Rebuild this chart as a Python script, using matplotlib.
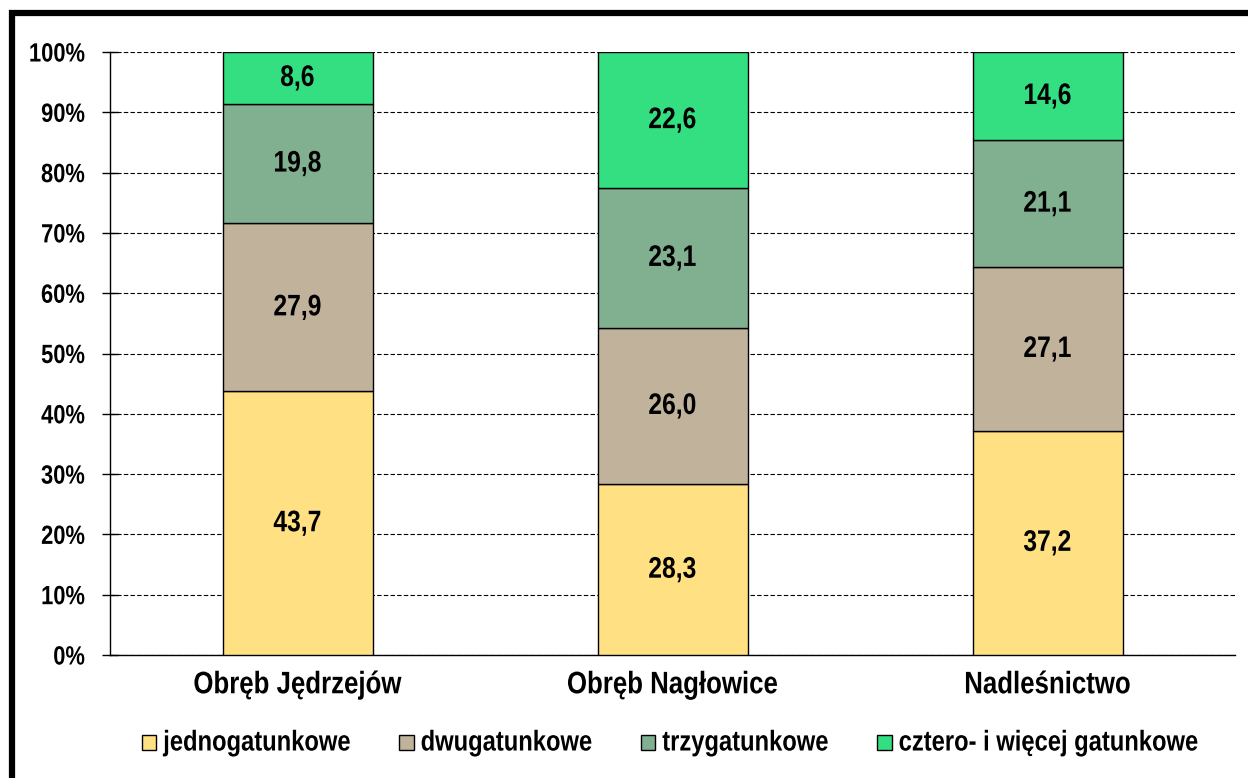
import matplotlib
matplotlib.use("Agg")
import matplotlib.pyplot as plt
from matplotlib.patches import Rectangle
from matplotlib.patheffects import AbstractPathEffect
from matplotlib.transforms import Affine2D
import numpy as np

categories = ["Obręb Jędrzejów", "Obręb Nagłowice", "Nadleśnictwo"]
series_names = ["jednogatunkowe", "dwugatunkowe", "trzygatunkowe", "cztero- i więcej gatunkowe"]
jedno = [43.7, 28.3, 37.2]
dwu = [27.9, 26.0, 27.1]
trzy = [19.8, 23.1, 21.1]
cztero = [8.6, 22.6, 14.6]
colors = ["#FFE083", "#C0B29B", "#80B08F", "#34DF82"]
tick_labels = [f"{v}%" for v in range(0, 101, 10)]

NARROW = 0.83


class Condense(AbstractPathEffect):
    """Horizontally compress text glyphs (narrow font look)."""
    def __init__(self, factor=NARROW, anchor='center'):
        super().__init__()
        self.factor = factor
        self.anchor = anchor

    def draw_path(self, renderer, gc, tpath, affine, rgbFace=None):
        ext = tpath.get_extents()
        if self.anchor == 'center':
            cx = (ext.x0 + ext.x1) / 2
        elif self.anchor == 'right':
            cx = ext.x1
        else:
            cx = ext.x0
        t = Affine2D().translate(-cx, 0).scale(self.factor, 1).translate(cx, 0) + affine
        renderer.draw_path(gc, tpath, t, rgbFace)


class Heighten(AbstractPathEffect):
    """Vertically stretch glyphs about the baseline (narrow font look, true width)."""
    def __init__(self, factor=1 / NARROW):
        super().__init__()
        self.factor = factor

    def draw_path(self, renderer, gc, tpath, affine, rgbFace=None):
        t = Affine2D().scale(1, self.factor) + affine
        renderer.draw_path(gc, tpath, t, rgbFace)


plt.rcParams['font.family'] = ['Liberation Sans', 'DejaVu Sans']
plt.rcParams['font.weight'] = 'bold'

fig = plt.figure(figsize=(12.48, 7.78), dpi=100)
ax = fig.add_axes([110/1248, 1-655/778, 1125/1248, 603/778])

# border
fig.patches.append(Rectangle((12/1248, -0.05), 1.1, (778-13)/778 + 0.05,
                             transform=fig.transFigure, fill=False,
                             edgecolor='black', linewidth=4.5, zorder=10))

x = np.arange(len(categories))
data = [jedno, dwu, trzy, cztero]
bottom = np.zeros(len(categories))
for vals, c, name in zip(data, colors, series_names):
    vals = np.array(vals)
    ax.bar(x, vals, 0.4, bottom=bottom, color=c, edgecolor='black',
           linewidth=1, label=name, zorder=3)
    for xi, b, v in zip(x, bottom, vals):
        t = ax.text(xi, b + v/2, f"{v:.1f}".replace('.', ','), ha='center', va='center',
                    fontsize=21.4, fontweight='bold', zorder=4)
        t.set_path_effects([Condense(anchor='center')])
    bottom += vals

ax.set_xlim(-0.5, 2.5)
ax.set_ylim(0, 100)
ax.set_yticks(range(0, 101, 10))
ax.set_yticklabels(tick_labels, fontsize=19, fontweight='bold')
ax.set_xticks(x)
ax.set_xticklabels(categories, fontsize=22.4, fontweight='bold')
ax.tick_params(axis='x', length=0, pad=11)
ax.tick_params(axis='y', direction='inout', length=12, width=1, pad=12)
for lbl in ax.get_yticklabels():
    lbl.set_path_effects([Condense(anchor='right')])
for lbl in ax.get_xticklabels():
    lbl.set_path_effects([Condense(anchor='center')])
ax.yaxis.grid(True, linestyle=(0, (4, 2)), color='black', linewidth=0.8, zorder=0)
ax.set_axisbelow(True)
for s in ['top', 'right']:
    ax.spines[s].set_visible(False)
ax.spines['left'].set_linewidth(1)
ax.spines['bottom'].set_linewidth(1)

leg_fs = 20.6 * NARROW
leg = fig.legend(loc='center', bbox_to_anchor=(670/1248, 1-744/778), ncol=4,
                 frameon=False, fontsize=leg_fs, handlelength=0.6, handleheight=0.6,
                 handletextpad=0.3, columnspacing=2.05, borderpad=0)
for t in leg.get_texts():
    t.set_path_effects([Heighten()])

fig.savefig("out.png", dpi=100)
